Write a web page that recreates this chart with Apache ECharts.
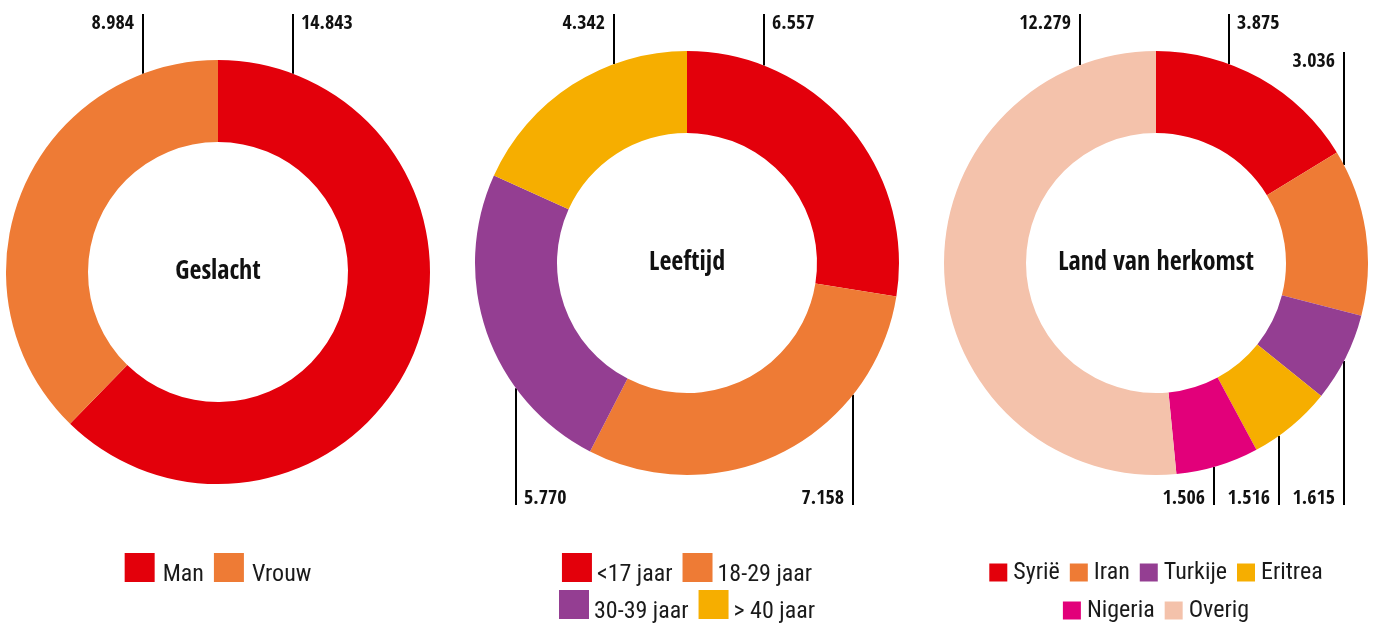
<!DOCTYPE html>
<html>
<head>
<meta charset="utf-8">
<script src="https://cdn.jsdelivr.net/npm/echarts@6/dist/echarts.min.js"></script>
<style>
  html, body { margin: 0; padding: 0; background: #fff; }
  #wrap { position: relative; width: 1375px; height: 623px; overflow: hidden; }
  .c { position: absolute; top: 0; height: 623px; }
</style>
</head>
<body>
<div id="wrap">
  <div id="c1" class="c" style="left:0;width:436px"></div>
  <div id="c2" class="c" style="left:458px;width:458px"></div>
  <div id="c3" class="c" style="left:937px;width:438px"></div>
</div>
<script>
// ---- data ----
const chartTitles = ['Geslacht', 'Leeftijd', 'Land van herkomst'];
const geslachtNames = ['Man', 'Vrouw'];
const geslachtValues = [14843, 8984];
const leeftijdNames = ['<17 jaar', '18-29 jaar', '30-39 jaar', '> 40 jaar'];
const leeftijdValues = [6557, 7158, 5770, 4342];
const herkomstNames = ['Syrië', 'Iran', 'Turkije', 'Eritrea', 'Nigeria', 'Overig'];
const herkomstValues = [3875, 3036, 1615, 1516, 1506, 12279];

// ---- styling ----
const FONT = "'Open Sans Condensed', 'Roboto Condensed', 'DejaVu Sans Condensed', sans-serif";
const LEGEND_FONT = "'Roboto Condensed', 'DejaVu Sans Condensed', sans-serif";
const geslachtColors = ['#E3000B', '#EE7B35'];
const leeftijdColors = ['#E3000B', '#EE7B35', '#943E92', '#F6AE00'];
const herkomstColors = ['#E3000B', '#EE7B35', '#943E92', '#F6AE00', '#E2007A', '#F4C2AB'];

// label line placement (dx from centre, line end y, which side the text sits)
const geslachtLabelSpec = [
  { dx: 75, endY: 14, side: 'right' },
  { dx: -75, endY: 14, side: 'left' }
];
const leeftijdLabelSpec = [
  { dx: 77, endY: 14, side: 'right' },
  { dx: 166, endY: 505, side: 'left' },
  { dx: -171, endY: 505, side: 'right' },
  { dx: -73, endY: 14, side: 'left' }
];
const herkomstLabelSpec = [
  { dx: 73, endY: 14, side: 'right' },
  { dx: 188, endY: 52, side: 'left' },
  { dx: 188, endY: 505, side: 'left' },
  { dx: 123, endY: 505, side: 'left' },
  { dx: 58, endY: 505, side: 'left' },
  { dx: -76, endY: 14, side: 'left' }
];

function fmt(v) {
  return String(v).replace(/\B(?=(\d{3})+(?!\d))/g, '.');
}

function build(el, cfg) {
  const chart = echarts.init(document.getElementById(el), null, { renderer: 'canvas' });
  const R = 212, r = 130;
  const cx = cfg.cx, cy = cfg.cy;
  const data = cfg.names.map((n, i) => ({ name: n, value: cfg.values[i] }));
  const legends = cfg.legendRows.map((row, k) => ({
    data: row,
    top: cfg.legendTop[k],
    left: 'center',
    icon: 'rect',
    itemWidth: cfg.iconSize[0],
    itemHeight: cfg.iconSize[1],
    itemGap: cfg.itemGap,
    selectedMode: false,
    formatter: name => '{t|' + name + '}',
    textStyle: {
      fontFamily: LEGEND_FONT,
      fontSize: 24,
      color: '#1a1a1a',
      rich: {
        t: {
          fontFamily: LEGEND_FONT,
          fontSize: 24,
          color: '#1a1a1a',
          padding: cfg.textPad
        }
      }
    }
  }));
  chart.setOption({
    animation: false,
    color: cfg.colors,
    title: {
      text: cfg.title,
      left: 'center',
      top: cy - 13,
      padding: 0,
      textStyle: { fontFamily: FONT, fontSize: 26, fontWeight: 'bold', color: '#111' }
    },
    legend: legends,
    series: [{
      type: 'pie',
      center: [cx, cy],
      radius: [r, R],
      startAngle: 90,
      clockwise: true,
      avoidLabelOverlap: false,
      silent: true,
      data: data,
      label: {
        show: true,
        position: 'outside',
        fontFamily: FONT,
        fontSize: 20,
        fontWeight: 'bold',
        color: '#111',
        formatter: p => fmt(p.value)
      },
      labelLine: {
        show: true,
        length: 0,
        length2: 0,
        smooth: false,
        lineStyle: { color: '#000', width: 2 }
      },
      labelLayout: function (params) {
        const s = cfg.spec[params.dataIndex];
        const lx = cx + s.dx;
        const top = s.endY < cy;
        const h = Math.sqrt(R * R - s.dx * s.dx);
        const edge = top ? cy - h : cy + h;
        return {
          x: s.side === 'right' ? lx + 8 : lx - 9,
          y: top ? s.endY : s.endY + 4,
          align: s.side === 'right' ? 'left' : 'right',
          verticalAlign: top ? 'top' : 'bottom',
          labelLinePoints: [[lx, edge], [lx, (edge + s.endY) / 2], [lx, s.endY]]
        };
      }
    }]
  });
}

build('c1', {
  title: chartTitles[0], names: geslachtNames, values: geslachtValues,
  colors: geslachtColors, spec: geslachtLabelSpec, cx: 218, cy: 272,
  legendRows: [geslachtNames], legendTop: [548], iconSize: [30, 29], itemGap: 10, textPad: [15, 0, 0, 3]
});
build('c2', {
  title: chartTitles[1], names: leeftijdNames, values: leeftijdValues,
  colors: leeftijdColors, spec: leeftijdLabelSpec, cx: 229, cy: 263,
  legendRows: [leeftijdNames.slice(0, 2), leeftijdNames.slice(2)], legendTop: [548, 585],
  iconSize: [30, 29], itemGap: 10, textPad: [15, 0, 0, 0]
});
build('c3', {
  title: chartTitles[2], names: herkomstNames, values: herkomstValues,
  colors: herkomstColors, spec: herkomstLabelSpec, cx: 219, cy: 263,
  legendRows: [herkomstNames.slice(0, 4), herkomstNames.slice(4)], legendTop: [556, 594],
  iconSize: [18, 18], itemGap: 10, textPad: [1, 0, 0, 1]
});
</script>
</body>
</html>
